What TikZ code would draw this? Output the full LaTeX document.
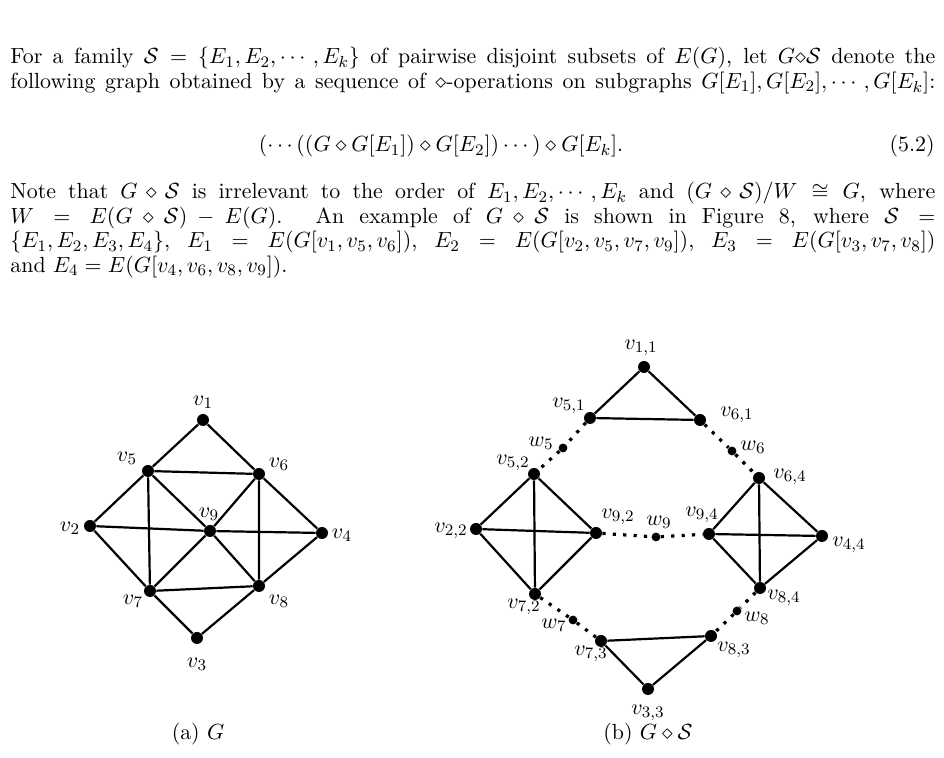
\documentclass[tikz,border=0pt]{standalone}
\usepackage{amsmath}
\usepackage{amssymb}
\usetikzlibrary{calc}
\pgfdeclarelayer{bg}
\pgfsetlayers{bg,main}

\newcommand{\fullline}[1]{\hbox to 462.5pt{#1}}

\begin{document}
\begin{tikzpicture}[x=0.5pt,y=-0.5pt,
  vtx/.style={circle,fill=black,inner sep=0pt,minimum size=6pt},
  wtx/.style={circle,fill=black,inner sep=0pt,minimum size=4.4pt},
  lab/.style={inner sep=0pt,font=\fontsize{10.95}{12}\selectfont},
  txt/.style={anchor=base west,inner sep=0pt,font=\fontsize{10.95}{13}\selectfont},
  edge/.style={line width=1.1pt},
  link/.style={line width=1.6pt,dash pattern=on 1.6pt off 3.6pt}]
  \useasboundingbox (0,0) rectangle (944,758);

  % the text above the figure
  \node [txt] (line1) at (10,64) {\fullline{For a family $\mathcal{S}=\{E_1,E_2,\cdots,E_k\}$ of pairwise disjoint subsets of $E(G)$, let $G{\diamond}\mathcal{S}$ denote the}};
  \node [txt] (line2) at (10,88.5) {\fullline{following graph obtained by a sequence of $\diamond$-operations on subgraphs $G[E_1],G[E_2],\cdots,G[E_k]$:}};
  \node [txt,anchor=base] (eq) at (441,152) {$(\cdots((G\diamond G[E_1])\diamond G[E_2])\cdots)\diamond G[E_k].$};
  \node [txt,anchor=base east] (tag) at (935,152) {(5.2)};
  \node [txt] (line3) at (10,199) {\fullline{Note that $G\diamond\mathcal{S}$ is irrelevant to the order of $E_1,E_2,\cdots,E_k$ and $(G\diamond\mathcal{S})/W\cong G$, where}};
  \node [txt] (line4) at (10,223.5) {\fullline{$W=E(G\diamond\mathcal{S})-E(G)$.  An example of $G\diamond\mathcal{S}$ is shown in Figure 8, where $\mathcal{S}=$}};
  \node [txt] (line5) at (10,248) {\fullline{$\{E_1,E_2,E_3,E_4\}$, $E_1=E(G[v_1,v_5,v_6])$, $E_2=E(G[v_2,v_5,v_7,v_9])$, $E_3=E(G[v_3,v_7,v_8])$}};
  \node [txt] (line6) at (10,272.5) {and $E_4=E(G[v_4,v_6,v_8,v_9])$.};

  % (a) the graph G
  \node [vtx] (v1) at (203,420) {};
  \node [vtx] (v5) at (148,471) {};
  \node [vtx] (v6) at (259,474) {};
  \node [vtx] (v2) at (90,526) {};
  \node [vtx] (v9) at (210,531) {};
  \node [vtx] (v4) at (322,533) {};
  \node [vtx] (v7) at (150,591) {};
  \node [vtx] (v8) at (259,586) {};
  \node [vtx] (v3) at (197,638) {};

  \node [lab] (l1) at (203,402) {$v_1$};
  \node [lab] (l5) at (127,458) {$v_5$};
  \node [lab] (l6) at (279,464) {$v_6$};
  \node [lab] (l2) at (70,528) {$v_2$};
  \node [lab] (l9) at (209,514) {$v_9$};
  \node [lab] (l4) at (342,535) {$v_4$};
  \node [lab] (l7) at (133,601) {$v_7$};
  \node [lab] (l8) at (279,601) {$v_8$};
  \node [lab] (l3) at (197,664) {$v_3$};

  \begin{pgfonlayer}{bg}
    \draw [edge] (v1)--(v5) (v1)--(v6) (v5)--(v6) (v5)--(v2) (v5)--(v7)
      (v5)--(v9) (v6)--(v9) (v6)--(v8) (v6)--(v4) (v2)--(v9) (v9)--(v4)
      (v2)--(v7) (v7)--(v9) (v9)--(v8) (v7)--(v8) (v8)--(v4) (v7)--(v3) (v8)--(v3);
  \end{pgfonlayer}

  % (b) the graph G <> S
  \node [vtx] (v11) at (644,367) {};
  \node [vtx] (v51) at (590,418) {};
  \node [vtx] (v61) at (700,420) {};
  \node [wtx] (w5) at (563,448) {};
  \node [wtx] (w6) at (732,451) {};
  \node [vtx] (v52) at (534,474) {};
  \node [vtx] (v64) at (759,478) {};
  \node [vtx] (v22) at (476,529) {};
  \node [vtx] (v92) at (596,533) {};
  \node [wtx] (w9) at (656,537) {};
  \node [vtx] (v94) at (709,534) {};
  \node [vtx] (v44) at (822,536) {};
  \node [vtx] (v72) at (535,594) {};
  \node [vtx] (v84) at (760,588) {};
  \node [wtx] (w7) at (573,620) {};
  \node [wtx] (w8) at (737,611) {};
  \node [vtx] (v73) at (601,641) {};
  \node [vtx] (v83) at (711,636) {};
  \node [vtx] (v33) at (648,689) {};

  \node [lab] (l11) at (641,348) {$v_{1,1}$};
  \node [lab] (l51) at (569,406) {$v_{5,1}$};
  \node [lab] (l61) at (737,415) {$v_{6,1}$};
  \node [lab] (lw5) at (541,443) {$w_5$};
  \node [lab] (lw6) at (753,447) {$w_6$};
  \node [lab] (l52) at (513,463) {$v_{5,2}$};
  \node [lab] (l64) at (790,477) {$v_{6,4}$};
  \node [lab] (l22) at (451,531) {$v_{2,2}$};
  \node [lab] (l92) at (618,517) {$v_{9,2}$};
  \node [lab] (lw9) at (659,522) {$w_9$};
  \node [lab] (l94) at (702,515) {$v_{9,4}$};
  \node [lab] (l44) at (849,545) {$v_{4,4}$};
  \node [lab] (l72) at (524,607) {$v_{7,2}$};
  \node [lab] (l84) at (784,598) {$v_{8,4}$};
  \node [lab] (lw7) at (554,625) {$w_7$};
  \node [lab] (lw8) at (757,618) {$w_8$};
  \node [lab] (l73) at (591,654) {$v_{7,3}$};
  \node [lab] (l83) at (734,650) {$v_{8,3}$};
  \node [lab] (l33) at (648,713) {$v_{3,3}$};

  \begin{pgfonlayer}{bg}
    \draw [edge] (v11)--(v51) (v11)--(v61) (v51)--(v61);
    \draw [edge] (v52)--(v22) (v52)--(v72) (v52)--(v92) (v22)--(v92) (v22)--(v72) (v72)--(v92);
    \draw [edge] (v64)--(v94) (v64)--(v44) (v64)--(v84) (v94)--(v44) (v94)--(v84) (v44)--(v84);
    \draw [edge] (v73)--(v83) (v73)--(v33) (v83)--(v33);
    \draw [link] (v51)--(w5)--(v52);
    \draw [link] (v61)--(w6)--(v64);
    \draw [link] (v92)--(w9)--(v94);
    \draw [link] (v72)--(w7)--(v73);
    \draw [link] (v84)--(w8)--(v83);
  \end{pgfonlayer}

  % captions
  \node [txt,anchor=base] (capa) at (198,740) {(a) $G$};
  \node [txt,anchor=base] (capb) at (648,740) {(b) $G\diamond\mathcal{S}$};
\end{tikzpicture}
\end{document}
